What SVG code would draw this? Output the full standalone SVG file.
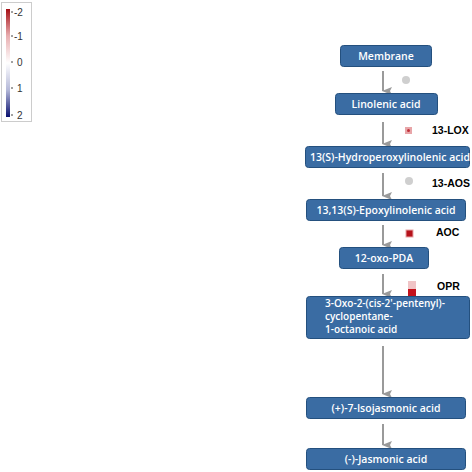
<svg xmlns="http://www.w3.org/2000/svg" width="472" height="472" viewBox="0 0 472 472">
<defs>
<linearGradient id="scale" x1="0" y1="0" x2="0" y2="1">
<stop offset="0" stop-color="#a50f15"/>
<stop offset="0.25" stop-color="#e8aeb0"/>
<stop offset="0.5" stop-color="#ffffff"/>
<stop offset="0.75" stop-color="#b4b8d8"/>
<stop offset="1" stop-color="#0a1170"/>
</linearGradient>
<marker id="ah" viewBox="0 0 8 10" refX="4" refY="9" markerWidth="8" markerHeight="10" markerUnits="userSpaceOnUse" orient="auto-start-reverse">
<path d="M0,0 L4,10 L8,0 L4,2 Z" fill="#9a9a9a"/>
</marker>
</defs>
<style>
.node rect{fill:#3a6ca3;stroke:#24507e;stroke-width:1}
.node text{fill:#ffffff;font-family:"Open Sans","DejaVu Sans",sans-serif;font-weight:600;font-size:10.5px;text-anchor:middle}
.node text.ml{text-anchor:start;font-size:10px}
.conn line{stroke:#9a9a9a;stroke-width:2}
.enz{font-family:"Liberation Sans",Arial,sans-serif;font-weight:bold;font-size:10.5px;fill:#000}
.leg{font-family:"Liberation Sans",Arial,sans-serif;font-size:10px;fill:#333}
</style>
<rect width="472" height="472" fill="#ffffff"/>
<g id="legend">
<rect x="1.5" y="2.5" width="30" height="119" fill="#fff" stroke="#cccccc" stroke-width="1"/>
<rect x="6" y="9" width="4" height="108" fill="url(#scale)"/>
<g stroke="#444" stroke-width="1">
<line x1="11" y1="12" x2="13" y2="12"/>
<line x1="11" y1="36" x2="13" y2="36"/>
<line x1="11" y1="62" x2="13" y2="62"/>
<line x1="11" y1="88" x2="13" y2="88"/>
<line x1="11" y1="115" x2="13" y2="115"/>
</g>
<text class="leg" x="14" y="15.5">-2</text>
<text class="leg" x="14" y="39.5">-1</text>
<text class="leg" x="17" y="65.5">0</text>
<text class="leg" x="17" y="91.5">1</text>
<text class="leg" x="17" y="118.5">2</text>
</g>
<g class="conn" id="connectors">
<line x1="383" y1="71" x2="383" y2="91" marker-end="url(#ah)"/>
<line x1="383" y1="122" x2="383" y2="144" marker-end="url(#ah)"/>
<line x1="383" y1="173" x2="383" y2="196" marker-end="url(#ah)"/>
<line x1="383" y1="225" x2="383" y2="245" marker-end="url(#ah)"/>
<line x1="383" y1="274" x2="383" y2="294" marker-end="url(#ah)"/>
<line x1="383" y1="346" x2="383" y2="394" marker-end="url(#ah)"/>
<line x1="383" y1="424" x2="383" y2="445" marker-end="url(#ah)"/>
</g>
<g id="enzymes">
<circle cx="406" cy="80" r="4" fill="#cfcfcf"/>
<rect x="405" y="127" width="7" height="7" fill="#e8a5a8"/>
<circle cx="408.5" cy="130.5" r="1.5" fill="#c0303a"/>
<text class="enz" x="432" y="134">13-LOX</text>
<circle cx="409" cy="181" r="4" fill="#cfcfcf"/>
<text class="enz" x="432" y="187">13-AOS</text>
<rect x="406" y="230" width="7" height="7" fill="#b5121b" stroke="#e8a5a8" stroke-width="1"/>
<text class="enz" x="436" y="236">AOC</text>
<rect x="408" y="281" width="8" height="8" fill="#f0c4c6"/>
<rect x="408" y="289" width="8" height="7" fill="#c4121c"/>
<text class="enz" x="437" y="290">OPR</text>
</g>
<g id="membrane" class="node"><rect x="340.5" y="45.5" width="91" height="21" rx="3"/><text x="386" y="59.5">Membrane</text></g>
<g id="linolenic" class="node"><rect x="335.5" y="93.5" width="102" height="21" rx="3"/><text x="386" y="107.5">Linolenic acid</text></g>
<g id="hydroperoxy" class="node"><rect x="305.5" y="146.5" width="164" height="21" rx="3"/><text x="390" y="160.5">13(S)-Hydroperoxylinolenic acid</text></g>
<g id="epoxy" class="node"><rect x="306.5" y="199.5" width="159" height="21" rx="3"/><text x="386" y="213.5">13,13(S)-Epoxylinolenic acid</text></g>
<g id="oxopda" class="node"><rect x="339.5" y="247.5" width="89" height="21" rx="3"/><text x="384" y="261.5">12-oxo-PDA</text></g>
<g id="opc8" class="node"><rect x="306.5" y="296.5" width="163" height="42" rx="3"/>
<text class="ml" x="325" y="306.5">3-Oxo-2-(cis-2'-pentenyl)-</text>
<text class="ml" x="325" y="319.5">cyclopentane-</text>
<text class="ml" x="325" y="332.5">1-octanoic acid</text></g>
<g id="isojasmonic" class="node"><rect x="306.5" y="397.5" width="159" height="21" rx="3"/><text x="386" y="411.5">(+)-7-Isojasmonic acid</text></g>
<g id="jasmonic" class="node"><rect x="306.5" y="448.5" width="159" height="21" rx="3"/><text x="386" y="462.5">(-)-Jasmonic acid</text></g>
</svg>
